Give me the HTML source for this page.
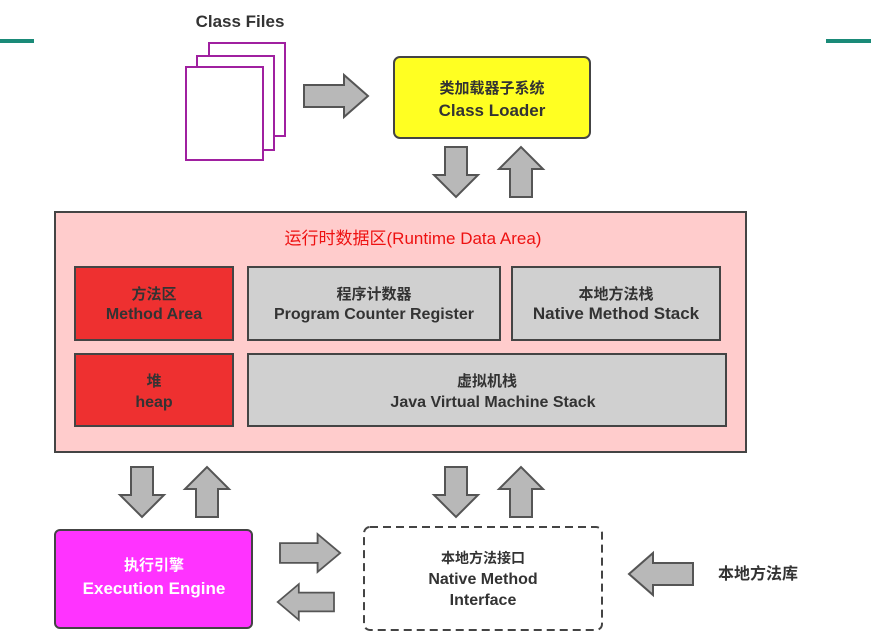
<!DOCTYPE html>
<html><head><meta charset="utf-8"><style>
body{margin:0;background:#fff}
svg text{font-family:"Liberation Sans","Noto Sans CJK SC",sans-serif;font-weight:bold;text-anchor:middle}
</style></head><body>
<svg width="871" height="632" viewBox="0 0 871 632" xmlns="http://www.w3.org/2000/svg">
<defs>
<g id="ad"><polygon points="-11,0 11,0 11,28 22,28 0,50 -22,28 -11,28" fill="#b8b8b8" stroke="#555" stroke-width="2"/></g>
<g id="ar"><polygon points="0,-11 40,-11 40,-21 64,0 40,21 40,11 0,11" fill="#b8b8b8" stroke="#555" stroke-width="2"/></g>
</defs>
<rect x="0" y="39" width="34" height="4" fill="#1a8a78"/>
<rect x="826" y="39" width="45" height="4" fill="#1a8a78"/>
<text x="240" y="27" font-size="17" fill="#333">Class Files</text>
<rect x="209" y="43" width="76" height="93" fill="#fff" stroke="#a020a0" stroke-width="2"/>
<rect x="197" y="56" width="77" height="94" fill="#fff" stroke="#a020a0" stroke-width="2"/>
<rect x="186" y="67" width="77" height="93" fill="#fff" stroke="#a020a0" stroke-width="2"/>
<use href="#ar" x="304" y="96"/>
<rect x="394" y="57" width="196" height="81" rx="6" fill="#ffff22" stroke="#444" stroke-width="2"/>
<text x="492" y="93" font-size="15" fill="#333">类加载器子系统</text>
<text x="492" y="116" font-size="17" fill="#333">Class Loader</text>
<use href="#ad" x="456" y="147"/>
<use href="#ad" transform="translate(521,197) rotate(180)"/>
<rect x="55" y="212" width="691" height="240" fill="#ffcccc" stroke="#444" stroke-width="2"/>
<text x="413" y="244" font-size="17" fill="#ee1111" style="font-weight:normal">运行时数据区(Runtime Data Area)</text>
<rect x="75" y="267" width="158" height="73" fill="#ee3030" stroke="#444" stroke-width="2"/>
<text x="154" y="299" font-size="15" fill="#333">方法区</text>
<text x="154" y="319" font-size="16" fill="#333">Method Area</text>
<rect x="248" y="267" width="252" height="73" fill="#d0d0d0" stroke="#444" stroke-width="2"/>
<text x="374" y="299" font-size="15" fill="#333">程序计数器</text>
<text x="374" y="319" font-size="16" fill="#333">Program Counter Register</text>
<rect x="512" y="267" width="208" height="73" fill="#d0d0d0" stroke="#444" stroke-width="2"/>
<text x="616" y="299" font-size="15" fill="#333">本地方法栈</text>
<text x="616" y="319" font-size="17" fill="#333">Native Method Stack</text>
<rect x="75" y="354" width="158" height="72" fill="#ee3030" stroke="#444" stroke-width="2"/>
<text x="154" y="386" font-size="15" fill="#333">堆</text>
<text x="154" y="407" font-size="16" fill="#333">heap</text>
<rect x="248" y="354" width="478" height="72" fill="#d0d0d0" stroke="#444" stroke-width="2"/>
<text x="487" y="386" font-size="15" fill="#333">虚拟机栈</text>
<text x="493" y="407" font-size="16" fill="#333">Java Virtual Machine Stack</text>
<use href="#ad" x="142" y="467"/>
<use href="#ad" transform="translate(207,517) rotate(180)"/>
<use href="#ad" x="456" y="467"/>
<use href="#ad" transform="translate(521,517) rotate(180)"/>
<rect x="55" y="530" width="197" height="98" rx="5" fill="#ff33ff" stroke="#444" stroke-width="2"/>
<text x="154" y="570" font-size="15" fill="#fff">执行引擎</text>
<text x="154" y="594" font-size="17" fill="#fff">Execution Engine</text>
<use href="#ar" transform="translate(280,553) scale(0.94,0.9)"/>
<use href="#ar" transform="translate(334,602) rotate(180) scale(0.88,0.85)"/>
<rect x="364" y="527" width="238" height="103" rx="6" fill="#fff" stroke="#444" stroke-width="2" stroke-dasharray="8,5"/>
<text x="483" y="563" font-size="14" fill="#333">本地方法接口</text>
<text x="483" y="584" font-size="16" fill="#333">Native Method</text>
<text x="483" y="605" font-size="16" fill="#333">Interface</text>
<use href="#ar" transform="translate(693,574) rotate(180)"/>
<text x="758" y="579" font-size="16" fill="#333">本地方法库</text>
</svg>
</body></html>
